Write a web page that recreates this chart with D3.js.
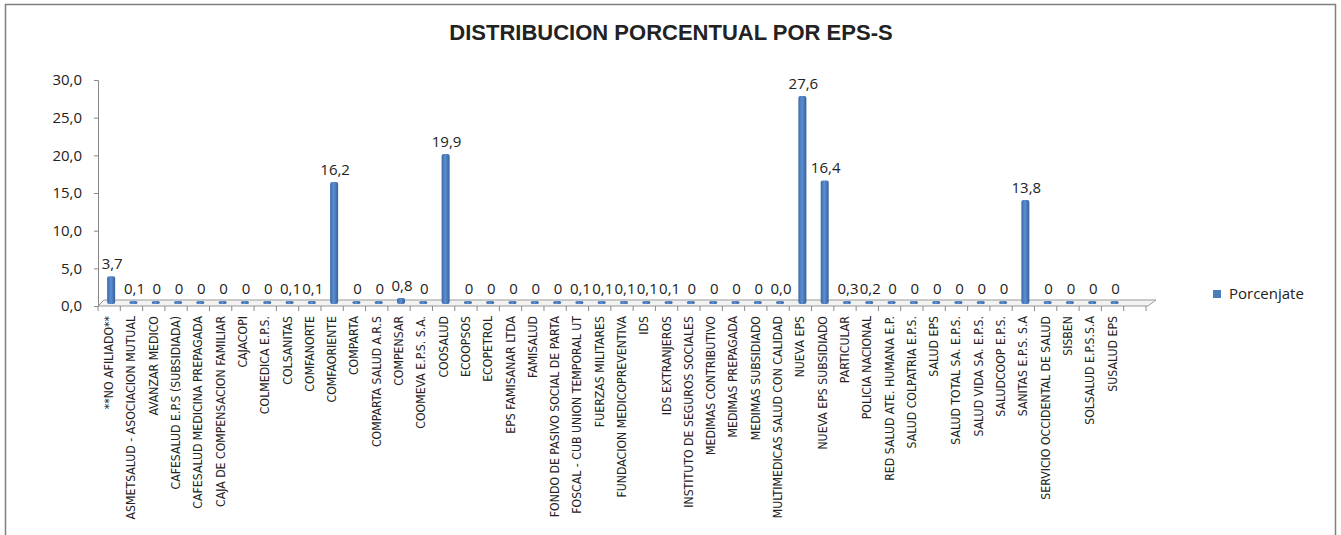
<!DOCTYPE html>
<html>
<head>
<meta charset="utf-8">
<script src="https://cdn.jsdelivr.net/npm/d3@7"></script>
<style>
  body { margin: 0; background: #fff; }
  text { fill: #222; }
</style>
</head>
<body>
<script>
const categories = [
  '**NO AFILIADO**', 'ASMETSALUD - ASOCIACION MUTUAL', 'AVANZAR MEDICO',
  'CAFESALUD E.P.S (SUBSIDIADA)', 'CAFESALUD MEDICINA PREPAGADA',
  'CAJA DE COMPENSACION FAMILIAR', 'CAJACOPI', 'COLMEDICA E.P.S.', 'COLSANITAS',
  'COMFANORTE', 'COMFAORIENTE', 'COMPARTA', 'COMPARTA SALUD A.R.S', 'COMPENSAR',
  'COOMEVA E.P.S. S.A.', 'COOSALUD', 'ECOOPSOS', 'ECOPETROL', 'EPS FAMISANAR LTDA',
  'FAMISALUD', 'FONDO DE PASIVO SOCIAL DE PARTA', 'FOSCAL - CUB UNION TEMPORAL UT',
  'FUERZAS MILITARES', 'FUNDACION MEDICOPREVENTIVA', 'IDS', 'IDS EXTRANJEROS',
  'INSTITUTO DE SEGUROS SOCIALES', 'MEDIMAS CONTRIBUTIVO', 'MEDIMAS PREPAGADA',
  'MEDIMAS SUBSIDIADO', 'MULTIMEDICAS SALUD CON CALIDAD', 'NUEVA EPS',
  'NUEVA EPS SUBSIDIADO', 'PARTICULAR', 'POLICIA NACIONAL',
  'RED SALUD ATE. HUMANA E.P.', 'SALUD COLPATRIA E.P.S.', 'SALUD EPS',
  'SALUD TOTAL SA. E.P.S.', 'SALUD VIDA SA. E.P.S.', 'SALUDCOOP E.P.S.',
  'SANITAS E.P.S. S.A', 'SERVICIO OCCIDENTAL DE SALUD', 'SISBEN',
  'SOLSALUD E.P.S.S.A', 'SUSALUD EPS', ''
]
const values = [
  3.7, 0.1, 0, 0, 0, 0, 0, 0, 0.1, 0.1, 16.2, 0, 0, 0.8, 0, 19.9, 0, 0, 0, 0,
  0, 0.1, 0.1, 0.1, 0.1, 0.1, 0, 0, 0, 0, 0.0, 27.6, 16.4, 0.3, 0.2, 0, 0, 0,
  0, 0, 0, 13.8, 0, 0, 0, 0, null
]
const valueLabels = [
  '3,7', '0,1', '0', '0', '0', '0', '0', '0', '0,1', '0,1', '16,2', '0', '0', '0,8',
  '0', '19,9', '0', '0', '0', '0', '0', '0,1', '0,1', '0,1', '0,1', '0,1', '0', '0',
  '0', '0', '0,0', '27,6', '16,4', '0,3', '0,2', '0', '0', '0', '0', '0', '0',
  '13,8', '0', '0', '0', '0', ''
]
const yTicks = [0, 5, 10, 15, 20, 25, 30]
const seriesName = 'Porcenjate'

const width = 1341, height = 535
const plotLeft = 98, plotRight = 1146, plotTop = 80, plotBottom = 306
const depth = 6

const svg = d3.select('body').append('svg')
  .attr('width', width)
  .attr('height', height)

// chart frame
svg.append('rect')
  .attr('x', 5.5).attr('y', 4.5)
  .attr('width', 1330).attr('height', 560)
  .attr('fill', 'none').attr('stroke', '#7f7f7f').attr('stroke-width', 1.5)

svg.append('text')
  .attr('x', 671).attr('y', 40)
  .attr('text-anchor', 'middle')
  .style('font', 'bold 22px "Liberation Sans", Arial, sans-serif')
  .text('DISTRIBUCION PORCENTUAL POR EPS-S')

const x = d3.scaleBand().domain(d3.range(categories.length)).range([plotLeft, plotRight])
const y = d3.scaleLinear().domain([0, 30]).range([plotBottom, plotTop])

const grad = svg.append('defs').append('linearGradient').attr('id', 'bar')
grad.append('stop').attr('offset', '0%').attr('stop-color', '#3b69a6')
grad.append('stop').attr('offset', '45%').attr('stop-color', '#5b8fd3')
grad.append('stop').attr('offset', '100%').attr('stop-color', '#35619b')

// floor
svg.append('path')
  .attr('d', `M${plotLeft},${plotBottom} L${plotLeft + depth},${plotBottom - depth} L${plotRight + depth + 4},${plotBottom - depth} L${plotRight + 2},${plotBottom} Z`)
  .attr('fill', '#f2f2f2').attr('stroke', '#999').attr('stroke-width', 1)

// y axis
const yAxis = svg.append('g')
  .attr('transform', `translate(${plotLeft},0)`)
  .call(d3.axisLeft(y).tickValues(yTicks).tickSize(4).tickPadding(12)
    .tickFormat(d => d3.format('.1f')(d).replace('.', ',')))
yAxis.select('.domain').attr('stroke', '#888')
yAxis.selectAll('.tick line').attr('stroke', '#888')
yAxis.selectAll('text').style('font', '15px "Open Sans", sans-serif').attr('fill', '#222')

// x category ticks
svg.append('g').selectAll('line')
  .data(d3.range(categories.length + 1))
  .join('line')
  .attr('x1', i => plotLeft + i * x.step()).attr('x2', i => plotLeft + i * x.step())
  .attr('y1', plotBottom).attr('y2', plotBottom + 5)
  .attr('stroke', '#888')

svg.append('g').selectAll('text')
  .data(categories)
  .join('text')
  .attr('transform', (d, i) => `translate(${x(i) + x.bandwidth() / 2 + 4},${plotBottom + 10}) rotate(-90)`)
  .attr('text-anchor', 'end')
  .style('font', '12.2px "Liberation Sans Narrow", "DejaVu Sans Condensed", sans-serif')
  .text(d => d)

// bars
const bw = 8
const barX = i => x(i) + x.bandwidth() / 2 + 2 - bw / 2
const barTop = v => Math.min(y(v), plotBottom - 3) - 2
svg.append('g').selectAll('rect')
  .data(values.map((v, i) => ({ v, i })).filter(d => d.v !== null))
  .join('rect')
  .attr('x', d => barX(d.i))
  .attr('y', d => barTop(d.v))
  .attr('width', bw)
  .attr('height', d => plotBottom - 2 - barTop(d.v))
  .attr('rx', 2)
  .attr('fill', 'url(#bar)')

svg.append('g').selectAll('text')
  .data(valueLabels.map((t, i) => ({ t, i })).filter(d => d.t !== ''))
  .join('text')
  .attr('x', d => x(d.i) + x.bandwidth() / 2 + 3)
  .attr('y', d => barTop(values[d.i]) - 7)
  .attr('text-anchor', 'middle')
  .style('font', '15px "Open Sans", sans-serif')
  .text(d => d.t)

// legend
svg.append('rect')
  .attr('x', 1213).attr('y', 290).attr('width', 8).attr('height', 8)
  .attr('fill', '#4a7ebb')
svg.append('text')
  .attr('x', 1229).attr('y', 299)
  .style('font', '15px "Open Sans", sans-serif')
  .text(seriesName)
</script>
</body>
</html>
